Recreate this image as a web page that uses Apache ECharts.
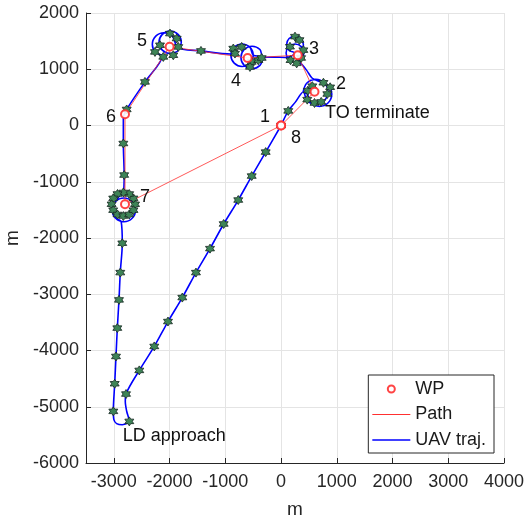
<!DOCTYPE html>
<html>
<head>
<meta charset="utf-8">
<script src="https://cdn.jsdelivr.net/npm/echarts@6.0.0/dist/echarts.min.js"></script>
<style>
  html, body { margin: 0; padding: 0; background: #fff; }
  #chart { width: 527px; height: 524px; }
</style>
</head>
<body>
<div id="chart"></div>
<script>
// axis ticks
const xTicks = [-3000, -2000, -1000, 0, 1000, 2000, 3000, 4000]
const yTicks = [-6000, -5000, -4000, -3000, -2000, -1000, 0, 1000, 2000]

// waypoints 1..8 (8 is back at the start)
const wpNames = ['1', '2', '3', '4', '5', '6', '7', '8']
const wpX = [0, 600, 300, -600, -2000, -2800, -2800, 0]
const wpY = [0, 600, 1250, 1200, 1400, 200, -1400, 0]

// flown trajectory (m)
const uavTraj = [
  [0, 0], [129, 260], [260, 420], [400, 600],
  // loiter at 2
  [464, 444], [620, 380], [776, 444], [840, 600], [776, 756], [620, 820], [464, 756], [400, 600],
  [470, 560], [534, 404], [690, 340], [846, 404], [910, 560], [846, 716], [690, 780],
  [560, 840], [460, 980], [380, 1080], [330, 1130],
  // loiter at 3
  [363, 1177], [410, 1290], [363, 1403], [250, 1450], [137, 1403], [90, 1290], [137, 1177], [250, 1130], [363, 1177],
  [400, 1440], [356, 1546], [250, 1590], [144, 1546], [100, 1440], [144, 1334], [250, 1290],
  [180, 1230], [70, 1210], [-120, 1215], [-320, 1210],
  // loiter at 4
  [-379, 1351], [-520, 1410], [-661, 1351], [-720, 1210], [-661, 1069], [-520, 1010], [-379, 1069], [-320, 1210],
  [-500, 1250], [-559, 1391], [-700, 1450], [-841, 1391], [-900, 1250], [-841, 1109], [-700, 1050], [-559, 1109],
  [-500, 1250], [-559, 1391], [-700, 1450], [-841, 1391], [-900, 1270],
  [-1437, 1326], [-1820, 1380],
  // loiter at 5
  [-1790, 1480], [-1849, 1621], [-1990, 1680], [-2131, 1621], [-2190, 1480], [-2131, 1339], [-1990, 1280], [-1849, 1339],
  [-1890, 1440], [-1952, 1588], [-2100, 1650], [-2248, 1588], [-2310, 1440], [-2248, 1292], [-2130, 1240],
  [-2442, 775], [-2770, 285], [-2830, 120], [-2830, -320], [-2815, -881], [-2830, -1200],
  // loiter at 7
  [-2971, -1259], [-3030, -1400], [-2971, -1541], [-2830, -1600], [-2689, -1541], [-2630, -1400], [-2689, -1259], [-2830, -1200],
  [-2968, -1352], [-3030, -1500], [-2968, -1648], [-2820, -1710], [-2672, -1648], [-2610, -1500], [-2672, -1352],
  [-2820, -1290], [-2968, -1352], [-3030, -1500], [-2968, -1648], [-2870, -1705],
  // down to landing approach
  [-2849, -2093], [-2885, -2615], [-2908, -3100], [-2938, -3602], [-2962, -4106], [-2985, -4591], [-3010, -5082],
  [-3000, -5230], [-2950, -5300], [-2850, -5320], [-2760, -5295], [-2723, -5260],
  [-2770, -5080], [-2795, -4905], [-2782, -4774],
  [-2544, -4354], [-2275, -3928], [-2029, -3485], [-1772, -3059], [-1527, -2615], [-1275, -2189],
  [-1030, -1751], [-768, -1325], [-527, -899], [-276, -473], [0, 0]
]

// time markers along the trajectory
const stars = [
  [129, 260], [0, 0], [-276, -473], [-527, -899], [-768, -1325], [-1030, -1751], [-1275, -2189],
  [-1527, -2615], [-1772, -3059], [-2029, -3485], [-2275, -3928], [-2544, -4354], [-2782, -4774], [-2723, -5260],
  [-3010, -5082], [-2985, -4591], [-2962, -4106], [-2938, -3602], [-2908, -3100], [-2885, -2615], [-2849, -2093],
  [-2815, -881], [-2830, -320], [-2770, 285], [-2442, 775], [-1437, 1326],
  [480, 620], [470, 460], [600, 400], [720, 420], [830, 560], [880, 680], [760, 760], [560, 700],
  [250, 1580], [330, 1520], [160, 1400], [400, 1340], [170, 1160], [280, 1105], [360, 1200],
  [-857, 1368], [-707, 1397], [-827, 1279], [-527, 1130], [-409, 1160], [-348, 1200], [-558, 1041],
  [-2262, 1308], [-2172, 1427], [-1873, 1546], [-1844, 1397], [-1934, 1249], [-2113, 1219], [-1993, 1634],
  [-2620, -1400], [-2648, -1295], [-2725, -1218], [-2830, -1190], [-2935, -1218], [-3012, -1295],
  [-3040, -1400], [-3012, -1505], [-2935, -1582], [-2830, -1610], [-2725, -1582], [-2648, -1505]
]

// text annotations
const wpLabelX = [-290, 1075, 590, -810, -2495, -3050, -2440, 270]
const wpLabelY = [150, 735, 1355, 790, 1500, 150, -1270, -225]
const noteText = ['TO terminate', 'LD approach']
const noteX = [790, -2840]
const noteY = [220, -5515]

const FONT = '"Liberation Sans", Arial, sans-serif'
const INK = '#262626'
const starPath = 'path://M0,-10L2.887,-5L8.66,-5L5.774,0L8.66,5L2.887,5L0,10L-2.887,5L-8.66,5L-5.774,0L-8.66,-5L-2.887,-5Z'
const plain = (v) => String(v)

const chart = echarts.init(document.getElementById('chart'), null, { renderer: 'canvas' })

chart.setOption({
  animation: false,
  backgroundColor: '#fff',
  textStyle: { fontFamily: FONT },
  grid: { left: 86, right: 23, top: 13, bottom: 61, containLabel: false, outerBoundsMode: 'none' },
  legend: {
    data: [
      { name: 'WP', icon: 'emptyCircle' },
      { name: 'Path', icon: 'path://M0,0H38V1H0Z' },
      { name: 'UAV traj.', icon: 'path://M0,0H38V1.6H0Z' },
    ],
    orient: 'vertical',
    right: 33,
    top: 375,
    itemWidth: 38,
    itemHeight: 7,
    itemGap: 5.5,
    padding: [4, 8, 3, 4],
    borderColor: INK,
    borderWidth: 1,
    backgroundColor: '#fff',
    selectedMode: false,
    textStyle: { fontSize: 18, color: '#1a1a1a', lineHeight: 20, fontFamily: FONT },
  },
  xAxis: {
    type: 'value',
    min: -3500,
    max: 4000,
    name: 'm',
    nameLocation: 'middle',
    nameGap: 37,
    nameTextStyle: { fontSize: 19, color: INK, fontFamily: FONT },
    axisLine: { onZero: false, lineStyle: { color: INK, width: 1 } },
    axisTick: { inside: true, length: 5, customValues: xTicks, lineStyle: { color: INK } },
    axisLabel: { customValues: xTicks, formatter: plain, fontSize: 18, color: INK, margin: 10, fontFamily: FONT },
    splitLine: { show: true, lineStyle: { color: '#e4e4e4', width: 1 } },
  },
  yAxis: {
    type: 'value',
    min: -6000,
    max: 2000,
    interval: 1000,
    name: 'm',
    nameLocation: 'middle',
    nameGap: 58,
    nameRotate: 90,
    nameTextStyle: { fontSize: 19, color: INK, fontFamily: FONT },
    axisLine: { show: true, onZero: false, lineStyle: { color: INK, width: 1 } },
    axisTick: { show: true, inside: true, length: 5, customValues: yTicks, lineStyle: { color: INK } },
    axisLabel: { customValues: yTicks, formatter: plain, fontSize: 18, color: INK, margin: 7, fontFamily: FONT },
    splitLine: { show: true, lineStyle: { color: '#e4e4e4', width: 1 } },
  },
  series: [
    {
      name: 'UAV traj.',
      type: 'line',
      data: uavTraj,
      smooth: 0.3,
      showSymbol: false,
      symbol: 'none',
      z: 2,
      lineStyle: { color: '#0000ff', width: 1.6 },
      itemStyle: { color: '#0000ff' },
    },
    {
      name: 'Path',
      type: 'line',
      data: wpX.map((x, i) => [x, wpY[i]]),
      showSymbol: false,
      symbol: 'none',
      z: 3,
      lineStyle: { color: '#ff3030', width: 1, opacity: 0.8 },
      itemStyle: { color: '#ff3030' },
    },
    {
      name: 'markers',
      type: 'scatter',
      data: stars,
      symbol: starPath,
      symbolSize: 9,
      z: 4,
      itemStyle: { color: '#3e8457', borderColor: '#14261f', borderWidth: 0.8, opacity: 1 },
    },
    {
      name: 'WP',
      type: 'scatter',
      data: wpX.map((x, i) => [x, wpY[i]]),
      symbol: 'emptyCircle',
      symbolSize: 8,
      z: 5,
      itemStyle: { color: '#ff3030', borderColor: '#ff3030', borderWidth: 1, opacity: 0.9 },
    },
    {
      name: 'wpLabels',
      type: 'scatter',
      silent: true,
      symbolSize: 0,
      z: 6,
      itemStyle: { opacity: 1 },
      data: wpNames.map((n, i) => ({ name: n, value: [wpLabelX[i], wpLabelY[i]] })),
      label: { show: true, position: 'inside', formatter: '{b}', fontSize: 18, color: '#111', textBorderWidth: 0, fontFamily: FONT },
    },
    {
      name: 'notes',
      type: 'scatter',
      silent: true,
      symbolSize: 0,
      z: 6,
      itemStyle: { opacity: 1 },
      data: noteText.map((n, i) => ({ name: n, value: [noteX[i], noteY[i]] })),
      label: { show: true, position: 'right', distance: 0, formatter: '{b}', fontSize: 18, color: '#111', textBorderWidth: 0, fontFamily: FONT },
    },
  ],
})
</script>
</body>
</html>
